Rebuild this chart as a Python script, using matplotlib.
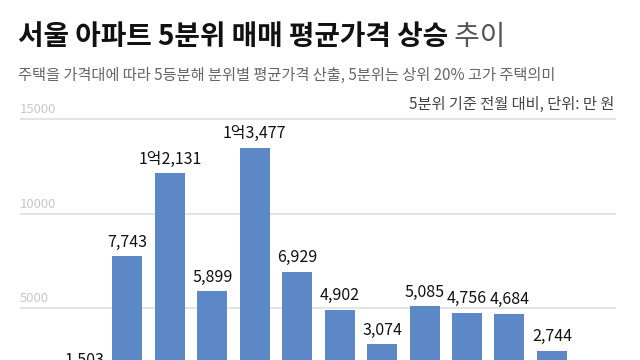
import matplotlib
matplotlib.use("Agg")
import matplotlib.pyplot as plt

plt.rcParams['font.family'] = ['Noto Sans CJK KR', 'DejaVu Sans']

# --- data ---
labels = ["1,503", "7,743", "1억2,131", "5,899", "1억3,477", "6,929",
          "4,902", "3,074", "5,085", "4,756", "4,684", "2,744"]
values = [1503, 7743, 12131, 5899, 13477, 6929, 4902, 3074, 5085, 4756, 4684, 2744]
grid_vals = [5000, 10000, 15000]

title_bold = "서울 아파트 5분위 매매 평균가격 상승"
title_light = "추이"
subtitle = "주택을 가격대에 따라 5등분해 분위별 평균가격 산출, 5분위는 상위 20% 고가 주택의미"
note = "5분위 기준 전월 대비, 단위: 만 원"

BAR = "#5d88c8"
W, H = 640, 360

fig = plt.figure(figsize=(6.4, 3.6), dpi=100)
fig.patch.set_facecolor("white")

# axes reaches below the figure bottom, like the cropped original
ax = fig.add_axes([20 / W, (H - 402.5) / H, 596 / W, 302.4 / H])
ax.set_xlim(-1.531, 12.51)
ax.set_ylim(0, 16000)
ax.axis("off")

for g in grid_vals:
    ax.axhline(g, color="#e0e0e0", lw=1.3, zorder=0)
    ax.annotate(str(g), xy=(0, g), xycoords=("axes fraction", "data"),
                xytext=(0, 2), textcoords="offset points",
                ha="left", va="bottom", fontsize=9.5, color="#c8c8c8")

x = list(range(len(values)))
ax.bar(x, values, width=0.707, color=BAR, zorder=2)
for xi, v, lab in zip(x, values, labels):
    ax.annotate(lab, xy=(xi, v), xytext=(0, 4), textcoords="offset points",
                ha="center", va="bottom", fontsize=11.5, color="#111111")

t = fig.text(18 / W, 1 - 37 / H, title_bold, fontsize=20, fontweight="bold",
             color="#111111", ha="left", va="center")
fig.canvas.draw()
ax.annotate(" " + title_light, xy=(1, 0.5), xycoords=t, ha="left", va="center",
            fontsize=20, color="#555555", annotation_clip=False)

fig.text(18 / W, 1 - 75 / H, subtitle, fontsize=11, color="#666666",
         ha="left", va="center")
fig.text(614 / W, 1 - 104 / H, note, fontsize=11, color="#444444",
         ha="right", va="center")

fig.savefig("out.png", dpi=100, facecolor="white")
